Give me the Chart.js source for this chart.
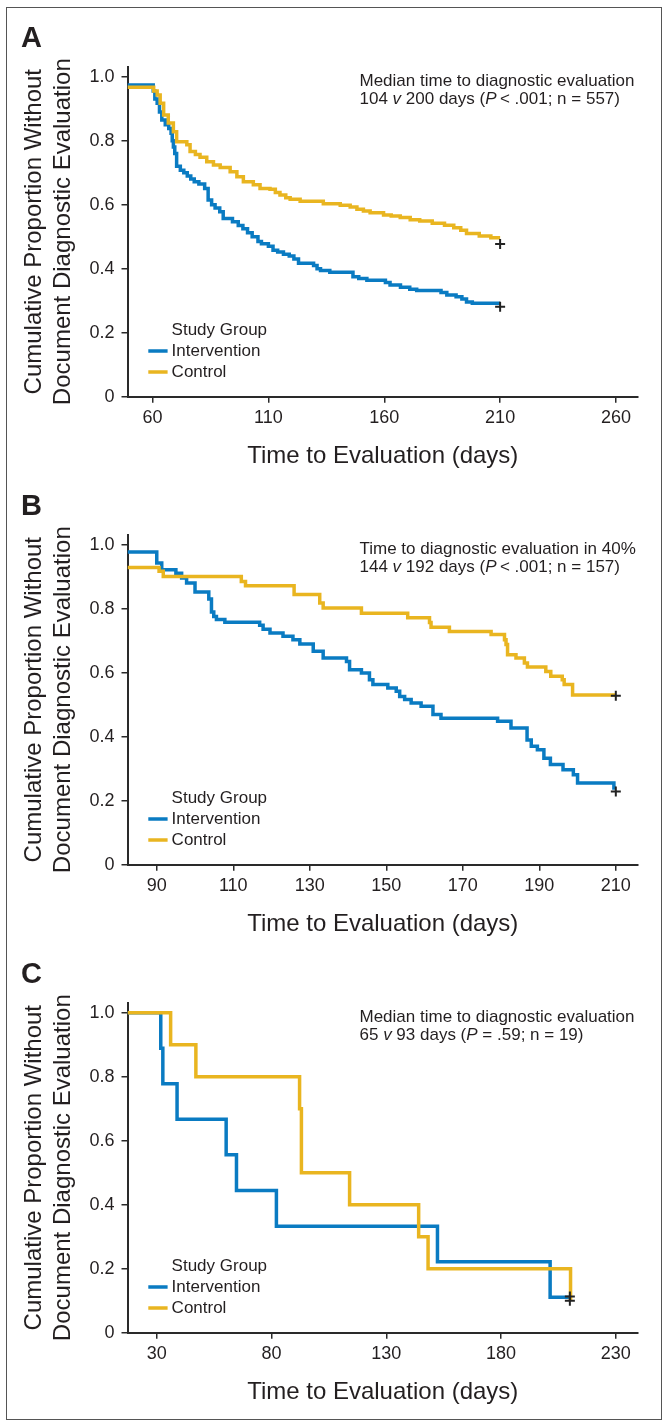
<!DOCTYPE html>
<html>
<head>
<meta charset="utf-8">
<script src="https://cdn.jsdelivr.net/npm/chart.js@4.4.0/dist/chart.umd.min.js"></script>
<style>
  body { margin: 0; background: #fff; }
  #wrap { position: relative; width: 663px; height: 1421px; }
  #frame { position: absolute; left: 6px; top: 7px; width: 654px; height: 1411px; border: 1px solid #555; }
  canvas { position: absolute; left: 0; }
</style>
</head>
<body>
<div id="wrap">
  <div id="frame"></div>
  <canvas id="chartA" width="663" height="468" style="top:0"></canvas>
  <canvas id="chartB" width="663" height="468" style="top:468px"></canvas>
  <canvas id="chartC" width="663" height="468" style="top:936px"></canvas>
</div>
<script>
// shared y ticks
const yTicks = [0, 0.2, 0.4, 0.6, 0.8, 1.0];

// Panel A
const aXTicks = [60, 110, 160, 210, 260];
const aIntDays = [49.2, 60.3, 61, 62, 63, 64, 65.5, 67, 68, 68.5, 69, 69.6, 70.4, 72, 73.5, 75, 76.5, 78, 80, 82.5, 84, 85.5, 87, 89, 90.5, 94.5, 97, 99, 101, 103, 105.5, 107, 110, 112, 114, 116.5, 119, 121, 123, 129.5, 131, 132.5, 136.5, 146.5, 149, 152.5, 160.5, 162.5, 167, 171, 174, 184.5, 187, 191, 193.5, 195.5, 198, 210];
const aIntVals = [0.974, 0.955, 0.93, 0.917, 0.89, 0.865, 0.85, 0.838, 0.823, 0.80, 0.78, 0.76, 0.72, 0.708, 0.70, 0.69, 0.68, 0.672, 0.665, 0.651, 0.615, 0.60, 0.59, 0.578, 0.557, 0.547, 0.535, 0.525, 0.512, 0.50, 0.485, 0.478, 0.47, 0.458, 0.452, 0.445, 0.44, 0.43, 0.417, 0.41, 0.40, 0.394, 0.389, 0.375, 0.369, 0.364, 0.357, 0.349, 0.342, 0.336, 0.332, 0.326, 0.318, 0.312, 0.305, 0.296, 0.292, 0.292];
const aCtlDays = [49.2, 60.5, 62, 63.3, 64.8, 66.8, 69, 70.4, 74.8, 76.2, 78.5, 80.5, 83.4, 86.3, 89.2, 93.5, 96.4, 99.2, 103.5, 106.4, 110.7, 113, 115, 117.5, 119.4, 123.7, 133.7, 141, 145.3, 148.2, 151, 153.9, 159.7, 163, 166.9, 171.2, 175.3, 180.7, 186, 190, 193, 195.5, 201, 206, 210];
const aCtlVals = [0.967, 0.955, 0.943, 0.917, 0.88, 0.855, 0.828, 0.797, 0.787, 0.766, 0.757, 0.748, 0.734, 0.724, 0.716, 0.703, 0.687, 0.672, 0.662, 0.651, 0.648, 0.638, 0.63, 0.622, 0.617, 0.611, 0.603, 0.598, 0.593, 0.586, 0.58, 0.575, 0.568, 0.565, 0.56, 0.553, 0.549, 0.542, 0.536, 0.528, 0.52, 0.51, 0.502, 0.497, 0.497];
const aCensorDays = [210, 210];
const aCensorVals = [0.281, 0.477];

// Panel B
const bXTicks = [90, 110, 130, 150, 170, 190, 210];
const bIntDays = [82.35, 90, 91.3, 95, 96.5, 97.8, 100, 103.6, 104.3, 104.9, 105.6, 107.8, 116.9, 117.8, 119.6, 123, 125.6, 127.4, 130.9, 133.5, 139.6, 140.4, 143.5, 145.6, 146.5, 150.4, 152.6, 153.5, 154.8, 156.5, 159.1, 162.2, 164.3, 179.1, 182.6, 186.8, 187.9, 189.5, 191.2, 192.9, 196.2, 198.9, 200, 209.5, 210];
const bIntVals = [0.977, 0.943, 0.922, 0.911, 0.896, 0.88, 0.852, 0.83, 0.79, 0.776, 0.766, 0.758, 0.748, 0.736, 0.724, 0.714, 0.703, 0.69, 0.667, 0.646, 0.635, 0.609, 0.599, 0.578, 0.563, 0.552, 0.542, 0.526, 0.516, 0.505, 0.495, 0.469, 0.458, 0.448, 0.427, 0.39, 0.37, 0.359, 0.333, 0.313, 0.297, 0.281, 0.255, 0.24, 0.24];
const bCtlDays = [82.35, 90.6, 91.7, 112.1, 113.2, 125.9, 132.6, 133.5, 143.5, 155.6, 161.3, 161.7, 166.5, 177.4, 180.9, 181.3, 181.7, 183.9, 186.1, 186.9, 191.7, 193, 196, 196.5, 198.7, 210];
const bCtlVals = [0.929, 0.917, 0.901, 0.885, 0.872, 0.844, 0.818, 0.802, 0.786, 0.772, 0.757, 0.742, 0.729, 0.719, 0.703, 0.688, 0.656, 0.646, 0.63, 0.618, 0.604, 0.589, 0.578, 0.563, 0.53, 0.53];
const bCensorDays = [210, 210];
const bCensorVals = [0.229, 0.528];

// Panel C
const cXTicks = [30, 80, 130, 180, 230];
const cIntDays = [17.2, 31.7, 32.6, 38.8, 60.2, 64.7, 82.1, 152.3, 201.4, 210];
const cIntVals = [1, 0.889, 0.778, 0.667, 0.556, 0.444, 0.333, 0.222, 0.111, 0.111];
const cCtlDays = [17.2, 36, 47, 92.2, 93, 114, 144.1, 148.2, 210.3];
const cCtlVals = [1, 0.9, 0.8, 0.7, 0.5, 0.4, 0.3, 0.2, 0.1];
const cCensorDays = [210, 210];
const cCensorVals = [0.113, 0.1];

const BLUE = '#0a7bc2';
const GOLD = '#e9b520';
const INK = '#231f20';
const AXIS = '#2a2a2a';
const FONT = '"Liberation Sans", Arial, Helvetica, sans-serif';

Chart.defaults.font.family = FONT;
Chart.defaults.color = INK;

function pts(xs, ys) {
    return xs.map((x, i) => ({ x: x, y: ys[i] }));
}

// text with some italic pieces, drawn left to right
function drawRich(ctx, parts, x, y) {
    parts.forEach(([txt, ital]) => {
        ctx.font = (ital ? 'italic ' : '') + '17px ' + FONT;
        ctx.fillText(txt, x, y);
        x += ctx.measureText(txt).width;
    });
}

const panelText = {
    id: 'panelText',
    afterDraw(chart, args, opts) {
        const ctx = chart.ctx;
        ctx.save();
        ctx.fillStyle = INK;
        ctx.textAlign = 'left';
        ctx.textBaseline = 'alphabetic';
        ctx.font = 'bold 29px ' + FONT;
        ctx.fillText(opts.letter, 21, 47);

        ctx.textBaseline = 'middle';
        drawRich(ctx, [[opts.note1, false]], 359.5, 81);
        drawRich(ctx, opts.note2, 359.5, 99.5);

        // legend
        ctx.font = '17px ' + FONT;
        ctx.fillText('Study Group', 171.6, 330);
        const rows = [['Intervention', BLUE, 351], ['Control', GOLD, 372]];
        rows.forEach(([name, col, y]) => {
            ctx.strokeStyle = col;
            ctx.lineWidth = 3.5;
            ctx.beginPath();
            ctx.moveTo(148.3, y);
            ctx.lineTo(167.6, y);
            ctx.stroke();
            ctx.fillText(name, 171.6, y);
        });
        ctx.restore();
    }
};

function makePanel(id, p) {
    new Chart(document.getElementById(id), {
        type: 'line',
        data: {
            datasets: [
                {
                    label: 'censored',
                    data: pts(p.censorDays, p.censorVals),
                    showLine: false,
                    pointStyle: 'cross',
                    pointRadius: 5,
                    borderColor: '#222',
                    borderWidth: 2,
                    order: 0
                },
                {
                    label: 'Control',
                    data: pts(p.ctlDays, p.ctlVals),
                    borderColor: GOLD,
                    borderWidth: 3.5,
                    stepped: true,
                    pointRadius: 0,
                    fill: false,
                    order: 1
                },
                {
                    label: 'Intervention',
                    data: pts(p.intDays, p.intVals),
                    borderColor: BLUE,
                    borderWidth: 3.5,
                    stepped: true,
                    pointRadius: 0,
                    fill: false,
                    order: 2
                }
            ]
        },
        options: {
            responsive: false,
            animation: false,
            events: [],
            layout: { padding: { top: 66.7, right: 25, bottom: 0, left: 0 } },
            plugins: {
                legend: { display: false },
                tooltip: { enabled: false },
                panelText: { letter: p.letter, note1: p.note1, note2: p.note2 }
            },
            scales: {
                x: {
                    type: 'linear',
                    min: p.xMin,
                    max: p.xMax,
                    afterBuildTicks: s => { s.ticks = p.xTicks.map(v => ({ value: v })); },
                    afterFit: s => { s.height = 71.3; },
                    grid: { drawOnChartArea: false, drawTicks: true, tickLength: 6, color: AXIS, lineWidth: 1.5 },
                    border: { display: true, color: AXIS, width: 2 },
                    ticks: { color: INK, font: { size: 18 }, padding: 5, maxRotation: 0, autoSkip: false },
                    title: {
                        display: true,
                        text: 'Time to Evaluation (days)',
                        color: INK,
                        font: { size: 24, lineHeight: 1 },
                        padding: { top: 0, bottom: 0 }
                    }
                },
                y: {
                    min: 0,
                    max: 1.03125,
                    afterBuildTicks: s => { s.ticks = yTicks.map(v => ({ value: v })); },
                    afterFit: s => { s.width = 127.5; },
                    grid: { drawOnChartArea: false, drawTicks: true, tickLength: 6, color: AXIS, lineWidth: 1.5 },
                    border: { display: true, color: AXIS, width: 2 },
                    ticks: {
                        color: INK,
                        font: { size: 18 },
                        padding: 7,
                        callback: v => (v === 0 ? '0' : v.toFixed(1))
                    },
                    title: {
                        display: true,
                        text: ['Cumulative Proportion Without', 'Document Diagnostic Evaluation'],
                        color: INK,
                        font: { size: 24, lineHeight: 1.23 },
                        padding: { top: 19.25, bottom: 0 }
                    }
                }
            }
        },
        plugins: [panelText]
    });
}

makePanel('chartA', {
    letter: 'A',
    note1: 'Median time to diagnostic evaluation',
    note2: [['104 ', false], ['v', true], [' 200 days (', false], ['P', true], ['\u2009< .001; n = 557)', false]],
    xMin: 49.2, xMax: 269.5, xTicks: aXTicks,
    intDays: aIntDays, intVals: aIntVals,
    ctlDays: aCtlDays, ctlVals: aCtlVals,
    censorDays: aCensorDays, censorVals: aCensorVals
});

makePanel('chartB', {
    letter: 'B',
    note1: 'Time to diagnostic evaluation in 40%',
    note2: [['144 ', false], ['v', true], [' 192 days (', false], ['P', true], ['\u2009< .001; n = 157)', false]],
    xMin: 82.35, xMax: 215.8, xTicks: bXTicks,
    intDays: bIntDays, intVals: bIntVals,
    ctlDays: bCtlDays, ctlVals: bCtlVals,
    censorDays: bCensorDays, censorVals: bCensorVals
});

makePanel('chartC', {
    letter: 'C',
    note1: 'Median time to diagnostic evaluation',
    note2: [['65 ', false], ['v', true], [' 93 days (', false], ['P', true], [' = .59; n = 19)', false]],
    xMin: 17.2, xMax: 239.7, xTicks: cXTicks,
    intDays: cIntDays, intVals: cIntVals,
    ctlDays: cCtlDays, ctlVals: cCtlVals,
    censorDays: cCensorDays, censorVals: cCensorVals
});
</script>
</body>
</html>
